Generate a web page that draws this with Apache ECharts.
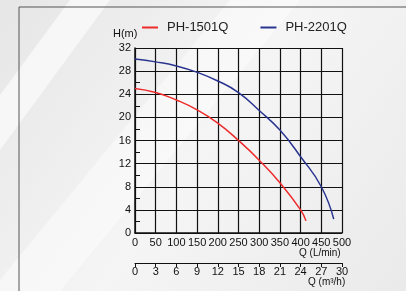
<!DOCTYPE html>
<html>
<head>
<meta charset="utf-8">
<script src="https://cdn.jsdelivr.net/npm/echarts@6/dist/echarts.min.js"></script>
<style>
  html, body { margin: 0; padding: 0; background: #eeeeee; }
  #chart { width: 406px; height: 291px; }
</style>
</head>
<body>
<div id="chart"></div>
<script>
// flow in L/min, head in m
var q1501 = [0, 50, 100, 150, 200, 250, 300, 350, 400, 413];
var h1501 = [25, 24.3, 23, 21.3, 19, 16, 12.6, 8.7, 4, 2.1];
var q2201 = [0, 50, 100, 150, 200, 250, 300, 350, 400, 450, 480];
var h2201 = [30.1, 29.6, 28.9, 27.8, 26.3, 24.3, 21.2, 17.8, 13.2, 8, 2.4];
var seriesNames = ['PH-1501Q', 'PH-2201Q'];

function pairs(xs, ys) {
  return xs.map(function (x, i) { return [x, ys[i]]; });
}

var myChart = echarts.init(document.getElementById('chart'));
var txt = { fontFamily: 'Liberation Sans', color: '#111' };

var option = {
  backgroundColor: {
    type: 'linear', x: 0, y: 0, x2: 1, y2: 1,
    colorStops: [{ offset: 0, color: '#e6e6e6' }, { offset: 0.5, color: '#f5f5f5' }, { offset: 1, color: '#eaeaea' }]
  },
  animation: false,
  graphic: [
    { type: 'polygon', silent: true, z: -1, shape: { points: [[70, 0], [110, 0], [0, 150], [0, 95]] }, style: { fill: 'rgba(255,255,255,0.6)' } },
    { type: 'polygon', silent: true, z: -1, shape: { points: [[230, 0], [300, 0], [60, 291], [0, 291], [0, 280]] }, style: { fill: 'rgba(255,255,255,0.45)' } },
    { type: 'rect', silent: true, shape: { x: 19, y: 7, width: 420, height: 300 }, style: { fill: 'none', stroke: '#555', lineWidth: 1 } },
    { type: 'text', left: 113, top: 28, style: { text: 'H(m)', font: '11px Liberation Sans', fill: '#111' } },
    { type: 'text', left: 299, top: 248, style: { text: 'Q (L/min)', font: '10px Liberation Sans', fill: '#111' } },
    { type: 'text', left: 308, top: 277, style: { text: 'Q (m³/h)', font: '10px Liberation Sans', fill: '#111' } }
  ],
  legend: {
    top: 16, left: 137,
    itemWidth: 16, itemHeight: 2, itemGap: 32,
    icon: 'rect',
    textStyle: { fontFamily: 'Liberation Sans', fontSize: 13, color: '#222', padding: [0, 0, 0, 4] },
    data: seriesNames
  },
  grid: { left: 135, right: 64, top: 48, bottom: 58, containLabel: false },
  xAxis: [{
    type: 'value', min: 0, max: 500, interval: 50,
    axisLine: { show: true, onZero: false, lineStyle: { color: '#111', width: 1.5 } },
    axisTick: { show: false },
    splitLine: { show: true, lineStyle: { color: '#111', width: 1.2 } },
    axisLabel: Object.assign({ fontSize: 11, margin: 4 }, txt)
  }, {
    type: 'value', min: 0, max: 30, interval: 3, position: 'bottom', offset: 30,
    axisLine: { show: true, onZero: false, lineStyle: { color: '#111', width: 1.2 } },
    axisTick: { show: true, length: 4, lineStyle: { color: '#111' } },
    splitLine: { show: false },
    axisLabel: Object.assign({ fontSize: 11, margin: 3 }, txt)
  }],
  yAxis: {
    type: 'value', min: 0, max: 32, interval: 4,
    axisLine: { show: true, lineStyle: { color: '#111', width: 1.5 } },
    axisTick: { show: true, inside: true, length: 5, lineStyle: { color: '#111' } },
    minorTick: { show: true, splitNumber: 2, length: 5, lineStyle: { color: '#111' } },
    splitLine: { show: true, lineStyle: { color: '#111', width: 1.2 } },
    axisLabel: Object.assign({ fontSize: 11, margin: 4 }, txt)
  },
  series: [{
    name: seriesNames[0], type: 'line', smooth: true, showSymbol: false,
    color: '#ee2b2b', lineStyle: { width: 1.5 },
    data: pairs(q1501, h1501)
  }, {
    name: seriesNames[1], type: 'line', smooth: true, showSymbol: false,
    color: '#2a3590', lineStyle: { width: 1.5 },
    data: pairs(q2201, h2201)
  }]
};
myChart.setOption(option);
</script>
</body>
</html>
